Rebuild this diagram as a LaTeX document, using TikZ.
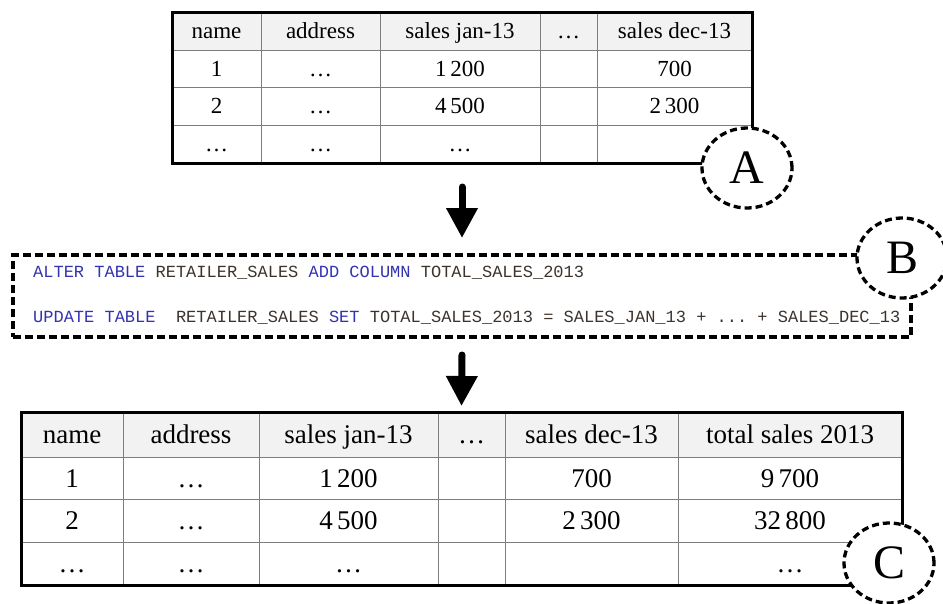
\documentclass[tikz,border=0pt]{standalone}
\usepackage{fontspec}
\setmainfont{Liberation Serif}
\newfontfamily\sqlfont{Liberation Mono}
\usepackage{tikz}
\usetikzlibrary{arrows.meta,positioning,shapes.geometric}
\definecolor{hdrgray}{RGB}{242,242,242}
\definecolor{rulegray}{RGB}{125,125,125}
\definecolor{sqlblue}{RGB}{51,51,178}
\definecolor{sqltext}{RGB}{60,52,44}
\frenchspacing

\begin{document}
\begin{tikzpicture}[x=1pt, y=-1pt,
  tframe/.style={draw, line width=3pt, inner sep=0pt, outer sep=0pt},
  gridline/.style={rulegray, line width=0.8pt},
  cellA/.style={font=\fontsize{23}{26}\selectfont, text height=15pt, text depth=0pt, inner sep=0pt},
  cellC/.style={font=\fontsize{27}{30}\selectfont, text height=18pt, text depth=0pt, inner sep=0pt},
  sqlline/.style={font=\sqlfont\fontsize{17}{20}\selectfont, text=sqltext, text height=10pt, text depth=0pt, inner sep=0pt, anchor=west},
  letter/.style={ellipse, draw, line width=3.3pt, dash pattern=on 7pt off 4pt, fill=white, minimum width=90pt, minimum height=80pt, inner sep=0pt, font=\fontsize{48}{48}\selectfont},
  flow/.style={-{Triangle[width=30pt,length=30pt]}, line width=7pt, line cap=round}]
\useasboundingbox (0,0) rectangle (943,603);
% Table A
\fill[hdrgray] (172,12) rectangle (752,50);
\foreach \y in {50,87.5,125} \draw[gridline] (172,\y) -- (752,\y);
\foreach \x in {261,380,540,597} \draw[gridline] (\x,12) -- (\x,163);
\foreach \x/\t [count=\i] in {216.5/name, 320.5/address, 460/sales jan-13, 568.5/…, 674.5/sales dec-13}
  \node[cellA] (ah\i) at (\x,31) {\t};
\foreach \x/\t [count=\i] in {216.5/1, 320.5/…, 460/{1\,200}, 674.5/700}
  \node[cellA] (aa\i) at (\x,68.75) {\t};
\foreach \x/\t [count=\i] in {216.5/2, 320.5/…, 460/{4\,500}, 674.5/{2\,300}}
  \node[cellA] (ab\i) at (\x,106.25) {\t};
\foreach \x/\t [count=\i] in {216.5/…, 320.5/…, 460/…}
  \node[cellA] (ac\i) at (\x,144) {\t};
\node[tframe, minimum width=580pt, minimum height=151pt] (tabA) at (462,87.5) {};
\node[letter] (labA) at (747,168) {A};
% SQL
\node[tframe, line width=3.3pt, dash pattern=on 8pt off 4pt, minimum width=898pt, minimum height=82pt] (sql) at (462,296) {};
\node[sqlline] (sql1) at (33,272) {\textcolor{sqlblue}{ALTER TABLE} RETAILER\_SALES \textcolor{sqlblue}{ADD COLUMN} TOTAL\_SALES\_2013};
\node[sqlline] (sql2) at (33,317) {\textcolor{sqlblue}{UPDATE TABLE}\ \ RETAILER\_SALES \textcolor{sqlblue}{SET} TOTAL\_SALES\_2013 = SALES\_JAN\_13 + ... + SALES\_DEC\_13};
\node[letter] (labB) at (902,258) {B};
% Table C
\fill[hdrgray] (21,412) rectangle (902,457);
\foreach \y in {457,499,542} \draw[gridline] (21,\y) -- (902,\y);
\foreach \x in {123,259,438,505,678} \draw[gridline] (\x,412) -- (\x,585);
\foreach \x/\t [count=\i] in {72/name, 191/address, 348.5/sales jan-13, 471.5/…, 591.5/sales dec-13, 790/total sales 2013}
  \node[cellC] (ch\i) at (\x,434.5) {\t};
\foreach \x/\t [count=\i] in {72/1, 191/…, 348.5/{1\,200}, 591.5/700, 790/{9\,700}}
  \node[cellC] (ca\i) at (\x,478) {\t};
\foreach \x/\t [count=\i] in {72/2, 191/…, 348.5/{4\,500}, 591.5/{2\,300}, 790/{32\,800}}
  \node[cellC] (cb\i) at (\x,520.5) {\t};
\foreach \x/\t [count=\i] in {72/…, 191/…, 348.5/…, 790/…}
  \node[cellC] (cc\i) at (\x,563.5) {\t};
\node[tframe, minimum width=881pt, minimum height=173pt] (tabC) at (461.5,498.5) {};
\node[letter] (labC) at (889,563) {C};
% Arrows
\draw[flow] ([yshift=-24pt]tabA.south) -- ([yshift=17pt]sql.north);
\draw[flow] ([yshift=-18pt]sql.south) -- ([yshift=6pt]tabC.north);
\end{tikzpicture}
\end{document}
